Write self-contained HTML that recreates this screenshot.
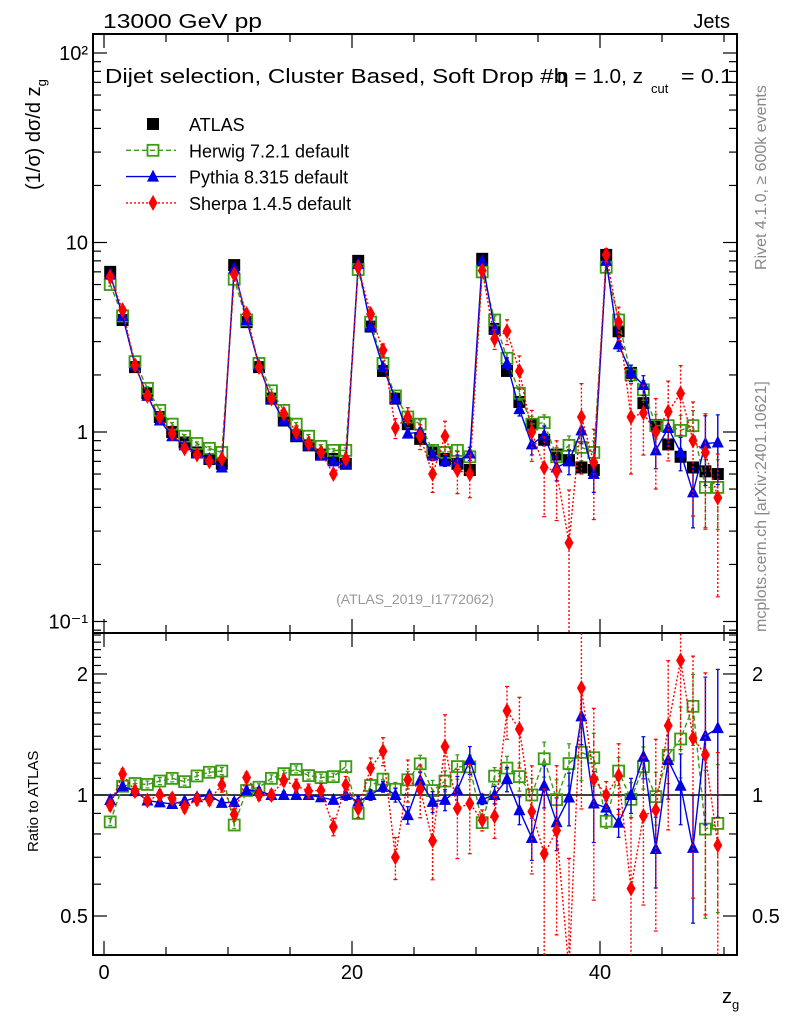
<!DOCTYPE html>
<html><head><meta charset="utf-8"><style>
html,body{margin:0;background:#fff;width:786px;height:1024px;overflow:hidden}
svg{display:block;font-family:"Liberation Sans",sans-serif}
</style></head><body>
<svg id="chart" width="786" height="1024" viewBox="0 0 786 1024" xmlns="http://www.w3.org/2000/svg">
<text x="103" y="28" font-size="20" textLength="159" lengthAdjust="spacingAndGlyphs">13000 GeV pp</text>
<text x="730" y="28" font-size="20" text-anchor="end">Jets</text>
<text x="105" y="83" font-size="20" textLength="462" lengthAdjust="spacingAndGlyphs">Dijet selection, Cluster Based, Soft Drop #b</text>
<text x="557" y="83" font-size="20" textLength="86" lengthAdjust="spacingAndGlyphs">η = 1.0, z</text>
<text x="651" y="93" font-size="13">cut</text>
<text x="681" y="83" font-size="20" textLength="52" lengthAdjust="spacingAndGlyphs">= 0.1</text>
<text transform="translate(40,190) rotate(-90)" font-size="20">(1/σ) dσ/d z<tspan font-size="13" dy="6">g</tspan></text>
<text transform="translate(38,852) rotate(-90)" font-size="15">Ratio to ATLAS</text>
<text x="722" y="1003" font-size="20">z<tspan font-size="13" dy="6">g</tspan></text>
<text transform="translate(766,270) rotate(-90)" font-size="16" fill="#888">Rivet 4.1.0, ≥ 600k events</text>
<text transform="translate(766,632) rotate(-90)" font-size="16" fill="#888">mcplots.cern.ch [arXiv:2401.10621]</text>
<text x="415" y="604" font-size="14" fill="#999" text-anchor="middle">(ATLAS_2019_I1772062)</text>
<g id="legend"></g>
<g id="axes"></g>
<g id="marks"></g>
</svg>
<script>
const bins = [];
for (let i = 0; i < 50; i++) bins.push(i + 0.5);
const atlas = [7.0,3.9,2.2,1.6,1.2,1.0,0.88,0.78,0.72,0.68,
7.6,3.8,2.2,1.5,1.15,0.95,0.85,0.76,0.72,0.68,
8.0,3.6,2.1,1.5,1.1,0.92,0.78,0.72,0.68,0.63,
8.2,3.5,2.1,1.44,1.1,0.91,0.76,0.71,0.65,0.63,
8.6,3.4,2.05,1.42,1.09,0.86,0.74,0.65,0.62,0.6];
const herwig = [6.0,4.1,2.35,1.7,1.3,1.1,0.95,0.87,0.82,0.78,
6.4,3.9,2.3,1.65,1.3,1.1,0.95,0.84,0.8,0.8,
7.2,3.8,2.3,1.55,1.2,1.1,0.8,0.78,0.8,0.74,
7.0,3.9,2.45,1.6,1.1,1.12,0.74,0.85,0.83,0.78,
7.4,3.9,2.0,1.67,1.08,1.08,1.02,1.08,0.51,0.51];
const pythia = [6.8,4.1,2.25,1.55,1.15,0.95,0.85,0.77,0.72,0.65,
7.3,3.9,2.25,1.5,1.15,0.95,0.85,0.75,0.7,0.68,
7.7,3.6,2.2,1.5,0.98,1.0,0.75,0.7,0.7,0.77,
8.0,3.5,2.3,1.32,0.86,0.96,0.65,0.7,1.02,0.6,
8.0,2.9,2.05,1.77,0.8,1.05,0.78,0.48,0.87,0.88];
const sherpa = [6.6,4.4,2.25,1.55,1.2,0.98,0.82,0.76,0.7,0.72,
6.8,4.2,2.2,1.5,1.25,1.0,0.87,0.78,0.6,0.72,
7.4,4.2,2.7,1.05,1.2,0.95,0.6,0.95,0.63,0.6,
7.1,3.1,3.4,2.1,1.0,0.65,0.62,0.26,1.2,0.69,
8.6,3.8,1.2,1.26,1.0,1.28,1.6,0.9,0.78,0.45];
const herwigErr = [0.02,0.02,0.02,0.02,0.02,0.02,0.02,0.02,0.02,0.02,
0.02,0.02,0.02,0.02,0.02,0.02,0.02,0.02,0.02,0.03,
0.03,0.03,0.03,0.04,0.05,0.05,0.06,0.06,0.07,0.07,
0.03,0.05,0.07,0.08,0.1,0.1,0.12,0.12,0.15,0.15,
0.04,0.08,0.1,0.12,0.15,0.15,0.2,0.2,0.4,0.4];
const pythiaErr = [0.02,0.02,0.02,0.02,0.02,0.02,0.02,0.02,0.02,0.02,
0.02,0.02,0.02,0.02,0.02,0.02,0.02,0.02,0.02,0.03,
0.03,0.03,0.03,0.04,0.05,0.05,0.06,0.06,0.08,0.08,
0.03,0.05,0.07,0.08,0.12,0.12,0.15,0.15,0.15,0.2,
0.04,0.08,0.1,0.12,0.2,0.2,0.2,0.35,0.4,0.4];
const sherpaErr = [0.03,0.03,0.03,0.03,0.03,0.03,0.03,0.03,0.03,0.04,
0.03,0.03,0.03,0.03,0.03,0.04,0.04,0.04,0.05,0.05,
0.05,0.06,0.08,0.12,0.12,0.15,0.2,0.2,0.25,0.25,
0.06,0.12,0.15,0.2,0.3,0.45,0.45,0.9,0.5,0.5,
0.08,0.2,0.5,0.4,0.5,0.45,0.4,0.6,0.6,0.7];
const mainTicks = ["10\u207B\u00B9","10","10\u00B2"];
const ratioTicks = [0.5,1,2];
const xTicks = [0,20,40];

const NS="http://www.w3.org/2000/svg";
const L=93,R=737,MT=34,MB=633,RB=955;
const xs=v=>104+v*12.4;
const ym=v=>432-189.5*Math.log10(v);
const yr=v=>795-402*Math.log10(v);
function mk(tag,attrs,parent){const e=document.createElementNS(NS,tag);for(const k in attrs)e.setAttribute(k,attrs[k]);parent.appendChild(e);return e;}
const svg=document.getElementById('chart');
const defs=mk('defs',{},svg);
const c1=mk('clipPath',{id:'cm'},defs);mk('rect',{x:L,y:MT,width:R-L,height:MB-MT},c1);
const c2=mk('clipPath',{id:'cr'},defs);mk('rect',{x:L,y:MB,width:R-L,height:RB-MB},c2);
const axes=document.getElementById('axes');
const marks=document.getElementById('marks');
let f=mk('rect',{x:L,y:MT,width:R-L,height:MB-MT,fill:'none',stroke:'#000','stroke-width':2},axes);


f=mk('rect',{x:L,y:MB,width:R-L,height:RB-MB,fill:'none',stroke:'#000','stroke-width':2},axes);


for(let v=0;v<=50;v+=5){const maj=v%20===0;const len=maj?14:8;const x=xs(v);
 for(const [y0,d] of [[MT,1],[MB,-1],[MB,1],[RB,-1]]){mk('line',{x1:x,x2:x,y1:y0,y2:y0+d*len,stroke:'#000','stroke-width':1.2},axes);}}
xTicks.forEach(v=>{const t=mk('text',{x:xs(v),y:979,'font-size':20,'text-anchor':'middle'},axes);t.textContent=v;
 
 });
for(let d=-2;d<=2;d++){for(let m=1;m<=9;m++){const v=m*Math.pow(10,d);const y=ym(v);if(y<MT||y>MB)continue;const len=m===1?14:8;
 mk('line',{x1:L,x2:L+len,y1:y,y2:y,stroke:'#000','stroke-width':1.2},axes);
 mk('line',{x1:R,x2:R-len,y1:y,y2:y,stroke:'#000','stroke-width':1.2},axes);}}
[0.1,10,100].forEach((v,i)=>{const t=mk('text',{x:88,y:ym(v)+7,'font-size':20,'text-anchor':'end'},axes);t.textContent=mainTicks[i];
 
 });
let t1=mk('text',{x:88,y:ym(1)+7,'font-size':20,'text-anchor':'end'},axes);t1.textContent='1';


for(let v=0.4;v<=2.55;v+=0.1){const vv=Math.round(v*10)/10;const y=yr(vv);if(y<MB||y>RB)continue;const maj=(vv===0.5||vv===1||vv===2);const len=maj?14:8;
 mk('line',{x1:L,x2:L+len,y1:y,y2:y,stroke:'#000','stroke-width':1.2},axes);
 mk('line',{x1:R,x2:R-len,y1:y,y2:y,stroke:'#000','stroke-width':1.2},axes);}
ratioTicks.forEach(v=>{for(const [x,a] of [[88,'end'],[752,'start']]){const t=mk('text',{x:x,y:yr(v)+7,'font-size':20,'text-anchor':a},axes);t.textContent=v;
 
 }});
let ref=mk('line',{x1:L,x2:R,y1:yr(1),y2:yr(1),stroke:'#000','stroke-width':1.5},axes);



function marker(g,kind,x,y,color){
 if(kind==='sq') mk('rect',{x:x-6,y:y-6,width:12,height:12,fill:'#000'},g);
 else if(kind==='osq') mk('rect',{x:x-5.5,y:y-5.5,width:11,height:11,fill:'none',stroke:color,'stroke-width':1.8},g);
 else if(kind==='tri') mk('polygon',{points:`${x},${y-7} ${x-6},${y+5} ${x+6},${y+5}`,fill:color},g);
 else mk('polygon',{points:`${x},${y-8} ${x-4.5},${y} ${x},${y+8} ${x+4.5},${y}`,fill:color},g);
}
const series=[
 {name:'herwig',vals:herwig,err:herwigErr,color:'#3c9a14',dash:'5,3',kind:'osq'},
 {name:'pythia',vals:pythia,err:pythiaErr,color:'#0000e6',dash:'',kind:'tri'},
 {name:'sherpa',vals:sherpa,err:sherpaErr,color:'#f00',dash:'2,2',kind:'dia'}];
function draw(panel,ys,clip,valFn){
 series.forEach(s=>{const g=mk('g',{'clip-path':`url(#${clip})`},marks);
  
  
  const pts=bins.map((b,i)=>[xs(b),ys(valFn(s.vals[i],i))]);
  mk('polyline',{points:pts.map(p=>p.join(',')).join(' '),fill:'none',stroke:s.color,'stroke-width':1.4,'stroke-dasharray':s.dash},g);
  bins.forEach((b,i)=>{const v=valFn(s.vals[i],i);const e=s.err[i];
   const y1=ys(v*(1+e)),y2=ys(Math.max(v*(1-e),1e-3));const x=xs(b);
   mk('line',{x1:x,x2:x,y1:y1,y2:y2,stroke:s.color,'stroke-width':1.4,'stroke-dasharray':s.dash},g);
   mk('line',{x1:x-2,x2:x+2,y1:y1,y2:y1,stroke:s.color,'stroke-width':1.2},g);
   mk('line',{x1:x-2,x2:x+2,y1:y2,y2:y2,stroke:s.color,'stroke-width':1.2},g);
   marker(g,s.kind,x,ys(v),s.color);});
 });
}
const ga=mk('g',{'clip-path':'url(#cm)'},marks);


bins.forEach((b,i)=>marker(ga,'sq',xs(b),ym(atlas[i])));
draw('main',ym,'cm',(v)=>v);
draw('ratio',yr,'cr',(v,i)=>v/atlas[i]);
const lg=document.getElementById('legend');
const entries=[['ATLAS','sq','#000',''],['Herwig 7.2.1 default','osq','#3c9a14','5,3'],['Pythia 8.315 default','tri','#0000e6',''],['Sherpa 1.4.5 default','dia','#f00','2,2']];
entries.forEach((e,i)=>{const y=124+i*26.3;const g=mk('g',{},lg);
 
 
 if(i>0) mk('line',{x1:126,x2:176,y1:y,y2:y,stroke:e[2],'stroke-width':1.4,'stroke-dasharray':e[3]},g);
 marker(g,e[1],153,y,e[2]);
 const t=mk('text',{x:189,y:y+7,'font-size':18},g);t.textContent=e[0];});
</script>
</body></html>
